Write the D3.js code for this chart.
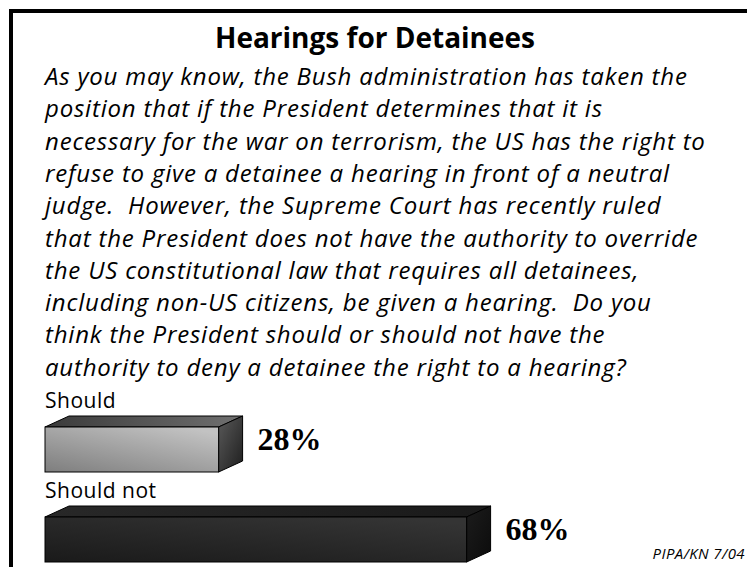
<!DOCTYPE html>
<html>
<head>
<meta charset="utf-8">
<script src="https://cdn.jsdelivr.net/npm/d3@7"></script>
<style>
html, body { margin: 0; padding: 0; background: #fff; }
svg { display: block; }
</style>
</head>
<body>
<svg id="chart" width="747" height="567"></svg>
<script>
const title = "Hearings for Detainees";
const questionLines = [
  "As you may know, the Bush administration has taken the",
  "position that if the President determines that it is",
  "necessary for the war on terrorism, the US has the right to",
  "refuse to give a detainee a hearing in front of a neutral",
  "judge.  However, the Supreme Court has recently ruled",
  "that the President does not have the authority to override",
  "the US constitutional law that requires all detainees,",
  "including non-US citizens, be given a hearing.  Do you",
  "think the President should or should not have the",
  "authority to deny a detainee the right to a hearing?"
];
const categories = ["Should", "Should not"];
const values = [28, 68];
const valueLabels = ["28%", "68%"];
const source = "PIPA/KN 7/04";

const W = 747, H = 567;
const svg = d3.select("#chart");
const defs = svg.append("defs");

// frame (only top and left edges visible)
svg.append("rect").attr("x", 11).attr("y", 11).attr("width", 800).attr("height", 700)
  .attr("fill", "none").attr("stroke", "#000").attr("stroke-width", 4);

const sans = "'Open Sans', Lato, sans-serif";

svg.append("text").attr("x", 375).attr("y", 48).attr("text-anchor", "middle")
  .attr("font-family", sans).attr("font-weight", "bold").attr("font-size", 28)
  .attr("fill", "#000").text(title);

svg.append("g").selectAll("text").data(questionLines).join("text")
  .attr("x", 45).attr("y", (d, i) => 85 + i * 32.3)
  .attr("font-family", sans).attr("font-style", "italic").attr("font-size", 24)
  .attr("letter-spacing", 0.8)
  .attr("fill", "#000").style("white-space", "pre").text(d => d);

// scales
const x = d3.scaleLinear().domain([0, 100]).range([45, 665]);
const y = d3.scaleBand().domain(categories).range([380, 560]);
const depthX = 24, depthY = 11, barH = 45;

// gradients per bar
const styles = [
  { front: ["#7e7e7e", "#c2c2c2"], top: ["#3a3a3a", "#707070"], side: ["#5a5a5a", "#1e1e1e"] },
  { front: ["#1a1a1a", "#343434"], top: ["#282828", "#1a1a1a"], side: ["#1c1c1c", "#0c0c0c"] }
];
function grad(id, c, x1, y1, x2, y2) {
  const g = defs.append("linearGradient").attr("id", id)
    .attr("x1", x1).attr("y1", y1).attr("x2", x2).attr("y2", y2);
  g.append("stop").attr("offset", "0%").attr("stop-color", c[0]);
  g.append("stop").attr("offset", "100%").attr("stop-color", c[1]);
}
styles.forEach((s, i) => {
  grad("gf" + i, s.front, "0%", "100%", "80%", "0%");
  grad("gt" + i, s.top, "0%", "0%", "100%", "0%");
  grad("gs" + i, s.side, "0%", "0%", "100%", "100%");
});

const rows = categories.map((c, i) => ({ c, v: values[i], lab: valueLabels[i], i }));
const g = svg.append("g").selectAll("g").data(rows).join("g");

g.append("text").attr("x", 45).attr("y", d => y(d.c) + 28)
  .attr("font-family", sans).attr("font-size", 21).attr("letter-spacing", 0.5)
  .attr("fill", "#000").text(d => d.c);

// top face
g.append("path").attr("d", d => {
  const x0 = x(0), x1 = x(d.v), yt = y(d.c) + 47;
  return `M${x0},${yt}L${x0 + depthX},${yt - depthY}L${x1 + depthX},${yt - depthY}L${x1},${yt}Z`;
}).attr("fill", d => `url(#gt${d.i})`).attr("stroke", "#000").attr("stroke-width", 1);

// side face
g.append("path").attr("d", d => {
  const x1 = x(d.v), yt = y(d.c) + 47;
  return `M${x1},${yt}L${x1 + depthX},${yt - depthY}L${x1 + depthX},${yt + barH - depthY}L${x1},${yt + barH}Z`;
}).attr("fill", d => `url(#gs${d.i})`).attr("stroke", "#000").attr("stroke-width", 1);

// front face
g.append("rect").attr("x", x(0)).attr("y", d => y(d.c) + 47)
  .attr("width", d => x(d.v) - x(0)).attr("height", barH)
  .attr("fill", d => `url(#gf${d.i})`).attr("stroke", "#000").attr("stroke-width", 1);

g.append("text").attr("x", d => x(d.v) + 39).attr("y", d => y(d.c) + 47 + 23)
  .attr("font-family", "'Liberation Serif', 'Times New Roman', serif").attr("font-weight", "bold")
  .attr("font-size", 32).attr("fill", "#000").text(d => d.lab);

svg.append("text").attr("x", 745).attr("y", 559).attr("text-anchor", "end")
  .attr("font-family", sans).attr("font-style", "italic").attr("font-size", 15)
  .attr("letter-spacing", 0.4)
  .attr("fill", "#000").text(source);
</script>
</body>
</html>
